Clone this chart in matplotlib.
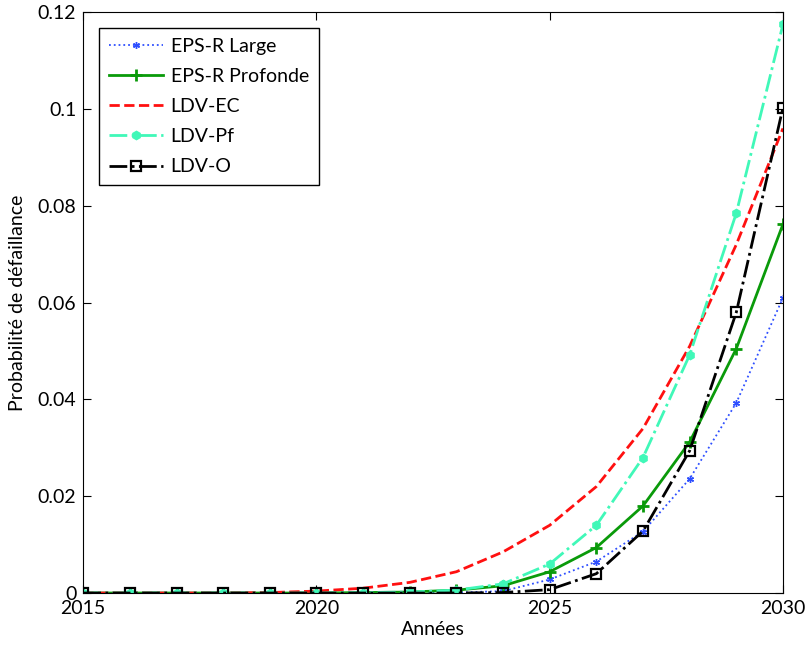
import numpy as np
import matplotlib.pyplot as plt

plt.rcParams['font.family'] = ['Lato', 'DejaVu Sans']

years = np.arange(2015, 2031)

# probabilite de defaillance par annee
eps_large = [0, 0, 0, 0, 0, 0, 0, 0, 0.0001, 0.0004, 0.0028, 0.0065, 0.0127, 0.0236, 0.0393, 0.0610]
eps_profonde = [0, 0, 0, 0, 0, 0, 0.0001, 0.0002, 0.0006, 0.0015, 0.0044, 0.0094, 0.0180, 0.0312, 0.0505, 0.0762]
ldv_ec = [0, 0, 0, 0, 0.0001, 0.0004, 0.0010, 0.0022, 0.0044, 0.0085, 0.0140, 0.0220, 0.0340, 0.0510, 0.0720, 0.0960]
ldv_pf = [0, 0, 0, 0, 0, 0, 0.0001, 0.0002, 0.0006, 0.0019, 0.0060, 0.0140, 0.0280, 0.0492, 0.0785, 0.1175]
ldv_o = [0, 0, 0, 0, 0, 0, 0, 0, 0, 0.0001, 0.0007, 0.0040, 0.0128, 0.0294, 0.0580, 0.1003]

fig = plt.figure(figsize=(8.08, 6.46), dpi=100)
ax = fig.add_axes([0.103, 0.082, 0.866, 0.899])

ax.plot(years, eps_large, ':', color='#2e4fff', lw=1.3, marker=(6, 2, 0), ms=5, label='EPS-R Large')
ax.plot(years, eps_profonde, '-', color='#0a9a0a', lw=2, marker='+', ms=8, mew=2, label='EPS-R Profonde')
ax.plot(years, ldv_ec, '--', color='#ff1010', lw=2, label='LDV-EC')
ax.plot(years, ldv_pf, '-.', color='#40f8b8', lw=2, marker='h', ms=6, label='LDV-Pf')
ax.plot(years, ldv_o, '-.', color='black', lw=2, marker='s', ms=7, mfc='none', mew=1.6, label='LDV-O')

ax.set_xlim(2015, 2030)
ax.set_ylim(0, 0.12)
ax.set_xticks([2015, 2020, 2025, 2030])
ax.set_yticks([0, 0.02, 0.04, 0.06, 0.08, 0.1, 0.12])
ax.set_yticklabels(['0', '0.02', '0.04', '0.06', '0.08', '0.1', '0.12'])
ax.tick_params(direction='in', labelsize=14, length=6, pad=5, top=True, right=True,
               labeltop=False, labelright=False)
ax.set_xlabel('Années', fontsize=14, labelpad=3)
ax.set_ylabel('Probabilité de défaillance', fontsize=14, labelpad=8)

leg = ax.legend(loc='upper left', fontsize=14, fancybox=False, edgecolor='black',
                framealpha=1, borderaxespad=0.8, handlelength=2.8, labelspacing=0.68,
                handletextpad=0.4, borderpad=0.5)
leg.get_frame().set_linewidth(1)

fig.savefig('out.png', dpi=100)
